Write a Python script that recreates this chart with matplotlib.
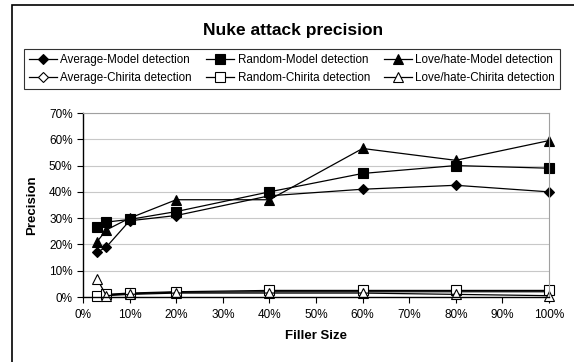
import matplotlib
matplotlib.use('Agg')
from matplotlib import pyplot as plt
from matplotlib.patches import Rectangle
from matplotlib.ticker import PercentFormatter

plt.rcParams['font.family'] = ['Liberation Sans', 'DejaVu Sans']

filler = [3, 5, 10, 20, 40, 60, 80, 100]

avg_model = [17, 19, 29, 31, 38.5, 41, 42.5, 40]
rand_model = [26.5, 28.5, 29.5, 32.5, 40, 47, 50, 49]
love_model = [21, 25.5, 30, 37, 37, 56.5, 52, 59.5]
avg_chirita = [0.3, 0.8, 1.2, 1.8, 2, 2, 2, 2]
rand_chirita = [0.5, 1, 1.5, 2, 2.5, 2.5, 2.5, 2.5]
love_chirita = [7, 0.5, 1, 1.5, 1.5, 1.5, 1, 0.5]

series = [
    ('Average-Model detection', avg_model, 'D', 'black', 5.5),
    ('Average-Chirita detection', avg_chirita, 'D', 'white', 5.5),
    ('Random-Model detection', rand_model, 's', 'black', 6.5),
    ('Random-Chirita detection', rand_chirita, 's', 'white', 6.5),
    ('Love/hate-Model detection', love_model, '^', 'black', 7),
    ('Love/hate-Chirita detection', love_chirita, '^', 'white', 7),
]

fig = plt.figure(figsize=(5.74, 3.62), dpi=100)
fig.patches.append(Rectangle((12 / 574, -0.1), 1.2, 1 - 5 / 362 + 0.1,
                             transform=fig.transFigure, fill=False,
                             edgecolor='black', linewidth=1.2))

ax = fig.add_axes([83 / 574, 1 - 297 / 362, (549 - 83) / 574, (297 - 113) / 362])

handles = []
for label, vals, mk, fc, ms in series:
    h, = ax.plot(filler, vals, color='black', linewidth=0.9, marker=mk,
                 markersize=ms, markerfacecolor=fc, markeredgecolor='black',
                 markeredgewidth=0.8, label=label, clip_on=False)
    handles.append(h)

ax.set_xlim(0, 100)
ax.set_ylim(0, 70)
ax.set_xticks(range(0, 101, 10))
ax.set_yticks(range(0, 71, 10))
ax.xaxis.set_major_formatter(PercentFormatter(decimals=0))
ax.yaxis.set_major_formatter(PercentFormatter(decimals=0))
ax.tick_params(labelsize=8.5, length=4, width=0.8, direction='out')
ax.tick_params(axis='x', pad=5)
ax.grid(axis='y', color='#c8c8c8', linewidth=0.8)
ax.set_axisbelow(True)
for s in ['top', 'right']:
    ax.spines[s].set_color('#a0a0a0')
for s in ['left', 'bottom']:
    ax.spines[s].set_linewidth(1.0)

ax.set_xlabel('Filler Size', fontsize=9.5, fontweight='bold', labelpad=6)
ax.set_ylabel('Precision', fontsize=9.5, fontweight='bold', labelpad=8)

fig.text(293 / 574, 1 - 30 / 362, 'Nuke attack precision', ha='center',
         va='center', fontsize=12.5, fontweight='bold')

leg = fig.legend(handles=handles, loc='center', ncol=3,
                 bbox_to_anchor=(292 / 574, 1 - 69 / 362), fontsize=8.4,
                 frameon=True, fancybox=False, edgecolor='black',
                 handlelength=2.4, columnspacing=1.2, handletextpad=0.3,
                 borderpad=0.4, labelspacing=0.55)
leg.get_frame().set_linewidth(0.8)

fig.savefig('out.png', dpi=100)
